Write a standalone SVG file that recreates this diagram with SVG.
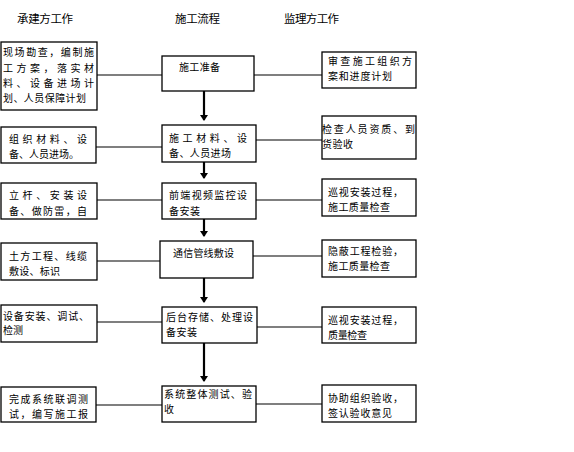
<svg xmlns="http://www.w3.org/2000/svg" width="574" height="452" viewBox="0 0 574 452">
<style>
.box{fill:#fff;stroke:#000;stroke-width:1.3}
.t{font-family:"Noto Sans CJK SC","Liberation Sans",sans-serif;font-size:10px;fill:#000}
.h{font-family:"Noto Sans CJK SC","Liberation Sans",sans-serif;font-size:11.5px;fill:#000}
.c{stroke:#000;stroke-width:1.2;fill:none}
.a{stroke:#000;stroke-width:2.2;fill:none;marker-end:url(#ah)}
</style>
<defs>
<marker id="ah" markerWidth="4" markerHeight="4" refX="2.5" refY="2" orient="auto" markerUnits="strokeWidth">
<path d="M0,0 L3,2 L0,4 Z" fill="#000"/>
</marker>
</defs>
<rect width="574" height="452" fill="#fff"/>
<g id="headers">
<text class="h" x="17" y="23" textLength="56" lengthAdjust="spacing">承建方工作</text>
<text class="h" x="175" y="23" textLength="45" lengthAdjust="spacing">施工流程</text>
<text class="h" x="284" y="23" textLength="55" lengthAdjust="spacing">监理方工作</text>
</g>
<g id="connectors">
<line class="c" x1="97" y1="75" x2="162" y2="75"/>
<line class="c" x1="96" y1="147" x2="162" y2="147"/>
<line class="c" x1="97" y1="200" x2="162" y2="200"/>
<line class="c" x1="93" y1="261" x2="160" y2="261"/>
<line class="c" x1="97" y1="322" x2="162" y2="322"/>
<line class="c" x1="96" y1="405" x2="162" y2="405"/>
<line class="c" x1="254" y1="75" x2="322" y2="75"/>
<line class="c" x1="256" y1="140" x2="322" y2="140"/>
<line class="c" x1="256" y1="200" x2="322" y2="200"/>
<line class="c" x1="253" y1="256" x2="322" y2="256"/>
<line class="c" x1="257" y1="327" x2="322" y2="327"/>
<line class="c" x1="256" y1="404" x2="322" y2="404"/>
<line class="a" x1="204" y1="91" x2="204" y2="120"/>
<line class="a" x1="204" y1="162" x2="204" y2="178"/>
<line class="a" x1="204" y1="219" x2="204" y2="236"/>
<line class="a" x1="204" y1="278" x2="204" y2="302"/>
<line class="a" x1="204" y1="343" x2="204" y2="381"/>
</g>
<g id="L1"><rect class="box" x="1" y="42" width="96" height="68"/>
<text class="t" x="3" y="56" textLength="91" lengthAdjust="spacing">现场勘查，编制施</text>
<text class="t" x="3" y="72" textLength="91" lengthAdjust="spacing">工方案，落实材</text>
<text class="t" x="3" y="87" textLength="91" lengthAdjust="spacing">料、设备进场计</text>
<text class="t" x="3" y="102" textLength="83" lengthAdjust="spacing">划、人员保障计划</text></g>
<g id="L2"><rect class="box" x="1" y="127" width="95" height="36"/>
<text class="t" x="9" y="143" textLength="78" lengthAdjust="spacing">组织材料、设</text>
<text class="t" x="9" y="158" textLength="70" lengthAdjust="spacing">备、人员进场。</text></g>
<g id="L3"><rect class="box" x="1" y="183" width="96" height="36"/>
<text class="t" x="9" y="199" textLength="78" lengthAdjust="spacing">立杆、安装设</text>
<text class="t" x="9" y="215" textLength="78" lengthAdjust="spacing">备、做防雷，自</text></g>
<g id="L4"><rect class="box" x="1" y="243" width="96" height="37"/>
<text class="t" x="9" y="260" textLength="78" lengthAdjust="spacing">土方工程、线缆</text>
<text class="t" x="9" y="275" textLength="51" lengthAdjust="spacing">敷设、标识</text></g>
<g id="L5"><rect class="box" x="1" y="305" width="96" height="37"/>
<text class="t" x="3" y="320" textLength="86" lengthAdjust="spacing">设备安装、调试、</text>
<text class="t" x="3" y="334">检测</text></g>
<g id="L6"><rect class="box" x="1" y="387" width="95" height="35"/>
<text class="t" x="9" y="403" textLength="79" lengthAdjust="spacing">完成系统联调测</text>
<text class="t" x="9" y="418" textLength="79" lengthAdjust="spacing">试，编写施工报</text></g>
<g id="M1"><rect class="box" x="162" y="56" width="92" height="35"/>
<text class="t" x="179" y="71" textLength="41" lengthAdjust="spacing">施工准备</text></g>
<g id="M2"><rect class="box" x="162" y="125" width="94" height="37"/>
<text class="t" x="169" y="142" textLength="78" lengthAdjust="spacing">施工材料、设</text>
<text class="t" x="169" y="157" textLength="62" lengthAdjust="spacing">备、人员进场</text></g>
<g id="M3"><rect class="box" x="162" y="183" width="94" height="36"/>
<text class="t" x="169" y="199" textLength="78" lengthAdjust="spacing">前端视频监控设</text>
<text class="t" x="169" y="215" textLength="31" lengthAdjust="spacing">备安装</text></g>
<g id="M4"><rect class="box" x="160" y="241" width="93" height="37"/>
<text class="t" x="173" y="257" textLength="61" lengthAdjust="spacing">通信管线敷设</text></g>
<g id="M5"><rect class="box" x="162" y="307" width="95" height="36"/>
<text class="t" x="166" y="321" textLength="87" lengthAdjust="spacing">后台存储、处理设</text>
<text class="t" x="166" y="336" textLength="31" lengthAdjust="spacing">备安装</text></g>
<g id="M6"><rect class="box" x="162" y="386" width="94" height="36"/>
<text class="t" x="164" y="398" textLength="88" lengthAdjust="spacing">系统整体测试、验</text>
<text class="t" x="164" y="413">收</text></g>
<g id="R1"><rect class="box" x="322" y="52" width="94" height="36"/>
<text class="t" x="328" y="65" textLength="84" lengthAdjust="spacing">审查施工组织方</text>
<text class="t" x="328" y="79.5" textLength="64" lengthAdjust="spacing">案和进度计划</text></g>
<g id="R2"><rect class="box" x="322" y="116" width="94" height="43"/>
<text class="t" x="322" y="133" textLength="93" lengthAdjust="spacing">检查人员资质、到</text>
<text class="t" x="322" y="147.5" textLength="31" lengthAdjust="spacing">货验收</text></g>
<g id="R3"><rect class="box" x="322" y="179" width="94" height="37"/>
<text class="t" x="328" y="196" textLength="75" lengthAdjust="spacing">巡视安装过程，</text>
<text class="t" x="328" y="210.5" textLength="62" lengthAdjust="spacing">施工质量检查</text></g>
<g id="R4"><rect class="box" x="322" y="240" width="94" height="37"/>
<text class="t" x="328" y="255" textLength="75" lengthAdjust="spacing">隐蔽工程检验，</text>
<text class="t" x="328" y="269.5" textLength="62" lengthAdjust="spacing">施工质量检查</text></g>
<g id="R5"><rect class="box" x="322" y="307" width="94" height="36"/>
<text class="t" x="328" y="324" textLength="75" lengthAdjust="spacing">巡视安装过程，</text>
<text class="t" x="328" y="338.5" textLength="39" lengthAdjust="spacing">质量检查</text></g>
<g id="R6"><rect class="box" x="322" y="385" width="94" height="37"/>
<text class="t" x="328" y="402" textLength="75" lengthAdjust="spacing">协助组织验收，</text>
<text class="t" x="328" y="416.5" textLength="64" lengthAdjust="spacing">签认验收意见</text></g>
</svg>
